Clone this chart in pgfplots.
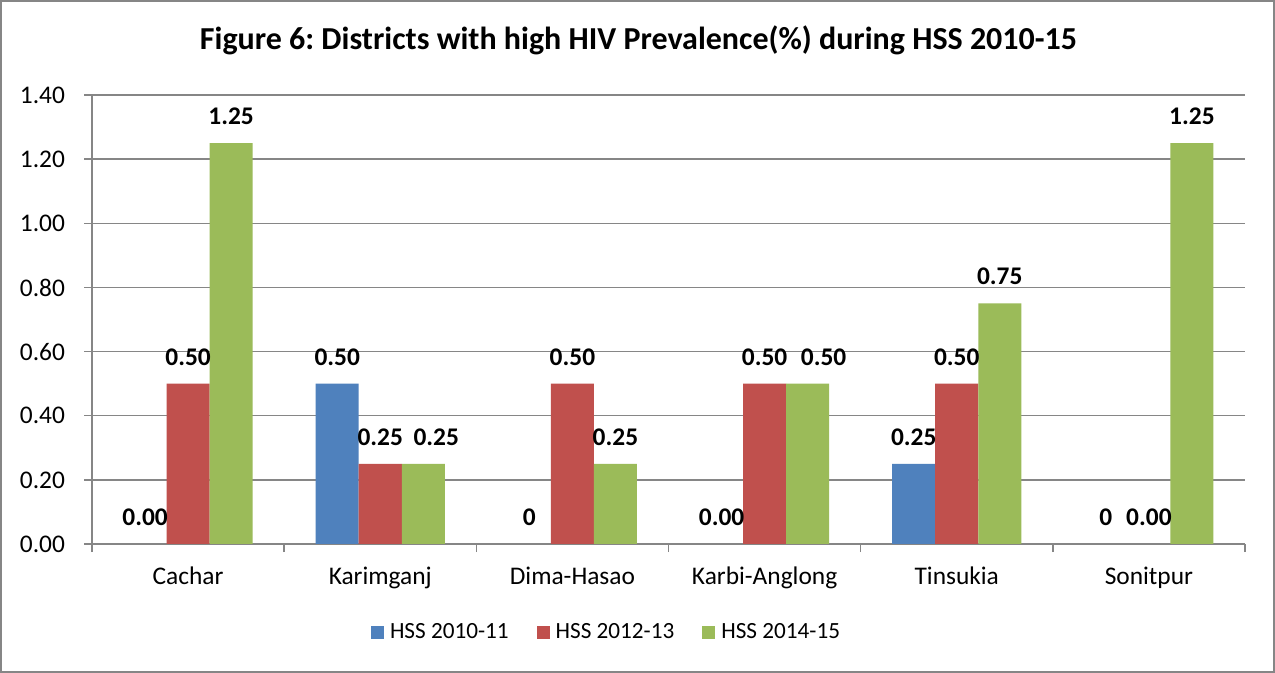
\documentclass[border=0pt]{standalone}
\usepackage{pgfplots}
\usepackage{pgfplotstable}
\pgfplotsset{compat=1.18}
\usepackage{fontspec}
\setmainfont{Carlito}
\frenchspacing
\definecolor{cblue}{RGB}{79,129,189}
\definecolor{cred}{RGB}{192,80,77}
\definecolor{cgreen}{RGB}{155,187,89}
\definecolor{cgrid}{RGB}{134,134,134}

\pgfplotstableread{
x y lab
0 0 0.00
1 0.5 0.50
2 0 0
3 0 0.00
4 0.25 0.25
5 0 0
}\blueT
\pgfplotstableread{
x y lab
0 0.5 0.50
1 0.25 0.25
2 0.5 0.50
3 0.5 0.50
4 0.5 0.50
5 0 0.00
}\redT
\pgfplotstableread{
x y lab dx
0 1.25 1.25 0
1 0.25 0.25 6.5
2 0.25 0.25 0
3 0.5 0.50 8
4 0.75 0.75 0
5 1.25 1.25 0
}\greenT

\begin{document}
\begin{tikzpicture}
\useasboundingbox (0,0) rectangle (637.5bp,336.5bp);
\fill[white] (0,0) rectangle (637.5bp,336.5bp);
\draw[cgrid, line width=1bp] (0.5bp,0.5bp) rectangle (637bp,336bp);
\node[anchor=base, font=\bfseries\fontsize{16bp}{19bp}\selectfont] at (319.25bp,311.5bp)
  {Figure 6: Districts with high HIV Prevalence(\%) during HSS 2010-15};
\begin{axis}[
  at={(46bp,64.5bp)}, anchor=south west, scale only axis,
  width=576.5bp, height=224.5bp,
  xmin=-0.5, xmax=5.5, ymin=0, ymax=1.4,
  axis lines*=left, axis line style={cgrid, line width=0.75bp, -},
  ytick={0,0.2,0.4,0.6,0.8,1.0,1.2,1.4},
  /pgf/number format/assume math mode=true,
  yticklabel style={/pgf/number format/.cd, fixed, fixed zerofill, precision=2, /tikz/.cd, xshift=-6bp},
  xticklabel style={yshift=-4bp},
  ymajorgrids, grid style={cgrid, line width=0.75bp},
  xtick={0,1,2,3,4,5},
  xticklabels={Cachar,Karimganj,Dima-Hasao,Karbi-Anglong,Tinsukia,Sonitpur},
  minor xtick={-0.5,0.5,1.5,2.5,3.5,4.5,5.5},
  major x tick style={draw=none},
  tick style={cgrid, line width=0.75bp},
  tick align=outside,
  major tick length=4bp, minor tick length=4bp,
  ticklabel style={font=\fontsize{12.7bp}{15bp}\selectfont},
  legend style={at={(0.448,-0.198)}, anchor=center, draw=none, legend columns=3,
    font=\fontsize{11.6bp}{13bp}\selectfont,
    /tikz/every even column/.append style={column sep=11bp},
    nodes={inner xsep=3bp}},
  legend image code/.code={\fill[#1] (0bp,-3.25bp) rectangle (6.5bp,3.25bp);},
  nodes near coords style={inner sep=0pt, yshift=9bp, font=\bfseries\fontsize{12.7bp}{15bp}\selectfont, text=black},
]
\addplot[ybar, fill=cblue, draw=none, bar width=0.224, bar shift=-0.224,
  nodes near coords, every node near coord/.append style={xshift=-21.5bp},
  point meta=explicit symbolic] table[x=x,y=y,meta=lab]{\blueT};
\addlegendentry{HSS 2010-11}
\addplot[ybar, fill=cred, draw=none, bar width=0.224, bar shift=0,
  nodes near coords, point meta=explicit symbolic] table[x=x,y=y,meta=lab]{\redT};
\addlegendentry{HSS 2012-13}
\addplot[ybar, fill=cgreen, draw=none, bar width=0.224, bar shift=0.224,
  visualization depends on={\thisrow{dx} \as \dx},
  nodes near coords, every node near coord/.append style={xshift=21.5bp+\dx bp},
  point meta=explicit symbolic] table[x=x,y=y,meta=lab]{\greenT};
\addlegendentry{HSS 2014-15}
\end{axis}
\end{tikzpicture}
\end{document}
